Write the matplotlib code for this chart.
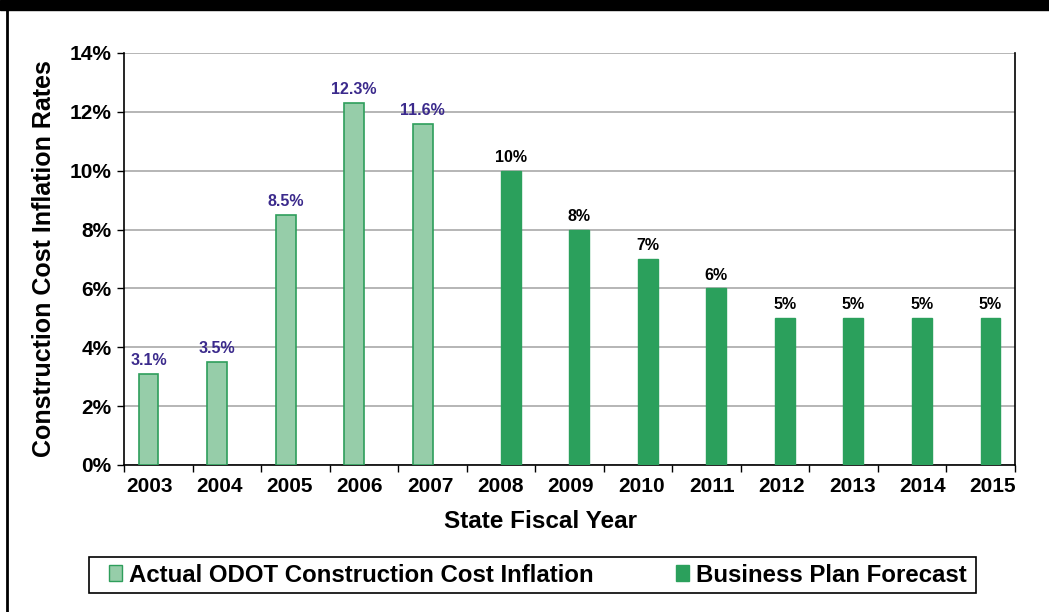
import matplotlib.pyplot as plt
import matplotlib.patches as mpatches
from matplotlib.ticker import FuncFormatter
import numpy as np

plt.rcParams['font.family'] = ['Liberation Sans', 'DejaVu Sans']
plt.rcParams['font.weight'] = 'bold'

# Inflation rates by state fiscal year
years = ['2003', '2004', '2005', '2006', '2007', '2008', '2009',
         '2010', '2011', '2012', '2013', '2014', '2015']
actual = [3.1, 3.5, 8.5, 12.3, 11.6]
forecast = [10, 8, 7, 6, 5, 5, 5, 5]
actual_labels = ['3.1%', '3.5%', '8.5%', '12.3%', '11.6%']
forecast_labels = ['10%', '8%', '7%', '6%', '5%', '5%', '5%', '5%']

light_green = '#96CDA9'
dark_green = '#2BA05C'
edge_green = '#2E9E5B'
label_purple = '#3B2A8C'

W, H = 1049, 612
fig = plt.figure(figsize=(W / 100, H / 100), dpi=100)
ax = fig.add_axes([124 / W, 1 - 465 / H, (1015 - 124) / W, (465 - 53) / H])

x = np.arange(len(years))
x_act = x[:len(actual)]
x_fc = x[len(actual):]
w = 0.29
# clustered layout: actual series in the left slot, forecast in the right slot
off = 0.142

bars_a = ax.bar(x_act - off, actual, width=w, color=light_green, edgecolor=edge_green,
                linewidth=1.2, zorder=3)
bars_f = ax.bar(x_fc + off, forecast, width=w, color=dark_green, edgecolor=dark_green,
                linewidth=1.0, zorder=3)

for b, lab in zip(bars_a, actual_labels):
    ax.annotate(lab, (b.get_x() + b.get_width() / 2, b.get_height()),
                xytext=(0, 4), textcoords='offset points', ha='center', va='bottom',
                color=label_purple, fontsize=11.5, fontweight='bold')
for b, lab in zip(bars_f, forecast_labels):
    ax.annotate(lab, (b.get_x() + b.get_width() / 2, b.get_height()),
                xytext=(0, 4), textcoords='offset points', ha='center', va='bottom',
                color='black', fontsize=11.5, fontweight='bold')

ax.set_xlim(-0.5, len(years) - 0.5)
ax.set_ylim(0, 14)
ax.set_yticks(np.arange(0, 15, 2))
ax.yaxis.set_major_formatter(FuncFormatter(lambda v, p: f'{v:.0f}%'))
ax.yaxis.grid(True, color='#B0B0B0', linewidth=1.3, zorder=0)
ax.set_axisbelow(True)

# year labels are spread slightly wider than the category slots
ax.set_xticks(x * 1.026 - 0.135)
ax.set_xticklabels(years)
ax.set_xticks(np.arange(-0.5, len(years)), minor=True)
ax.tick_params(axis='x', which='major', length=0, pad=9, labelsize=15)
ax.tick_params(axis='x', which='minor', length=5, width=1, direction='out')
ax.tick_params(axis='y', length=5, width=1, direction='out', pad=4, labelsize=15)

for s in ['left', 'bottom', 'right']:
    ax.spines[s].set_color('black')
    ax.spines[s].set_linewidth(1.2)
ax.spines['top'].set_visible(False)

ax.set_xlabel('State Fiscal Year', fontsize=17.5, fontweight='bold')
ax.xaxis.set_label_coords((540 - 124) / 891, -(521 - 465) / 412, transform=ax.transAxes)
ax.xaxis.label.set_va('center')
ax.set_ylabel('Construction Cost Inflation Rates', fontsize=18, fontweight='bold', labelpad=10)

handles = [mpatches.Patch(facecolor=light_green, edgecolor=edge_green, label='Actual ODOT Construction Cost Inflation'),
           mpatches.Patch(facecolor=dark_green, edgecolor=dark_green, label='Business Plan Forecast')]
leg = fig.legend(handles=handles, loc='center left', bbox_to_anchor=(109 / W, 1 - 575 / H),
                 ncol=2, frameon=False, prop={'size': 17.3, 'weight': 'bold'},
                 handlelength=0.55, handleheight=0.6, handletextpad=0.3,
                 columnspacing=3.4, borderpad=0, borderaxespad=0)

# legend frame and page border
fig.patches.append(mpatches.Rectangle((89 / W, 1 - 593 / H), (976 - 89) / W, (593 - 557) / H,
                                      transform=fig.transFigure, facecolor='none',
                                      edgecolor='black', linewidth=1.2))
fig.patches.append(mpatches.Rectangle((0, 1 - 10 / H), 1, 10 / H, transform=fig.transFigure,
                                      color='black', zorder=10))
fig.add_artist(plt.Line2D([6.5 / W, 6.5 / W], [0, 1], transform=fig.transFigure,
                          color='black', linewidth=2))

fig.savefig('out.png', dpi=100)
